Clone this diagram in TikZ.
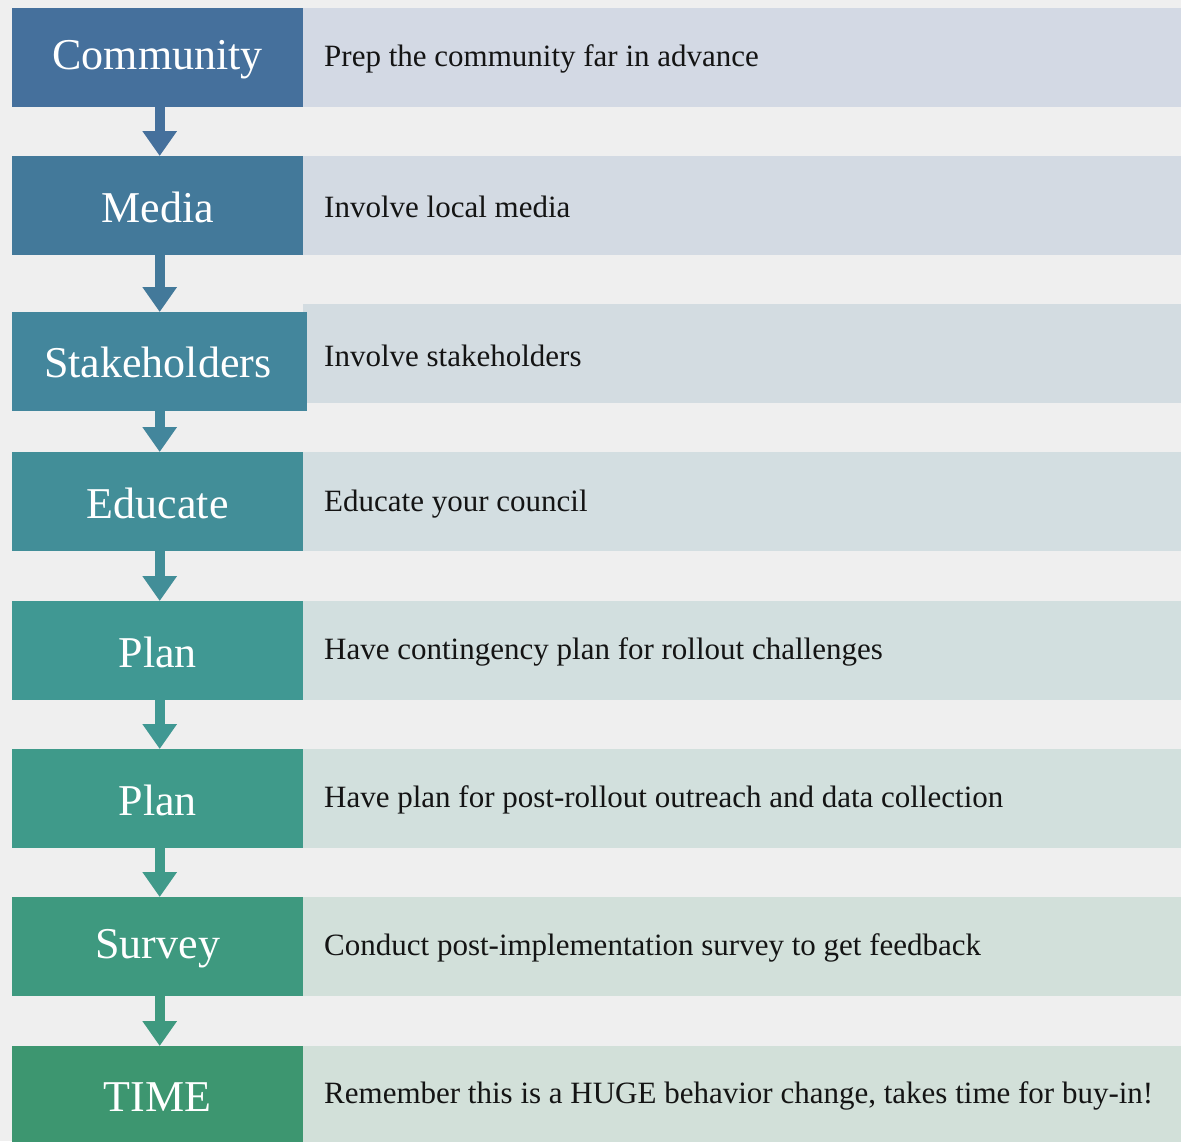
\documentclass[tikz,border=0pt]{standalone}
\usepackage{fontspec}
\setmainfont{Liberation Serif}
\usetikzlibrary{arrows.meta}
\definecolor{bg}{HTML}{EFEFEF}
\definecolor{Lone}{HTML}{45709C}
\definecolor{Ltwo}{HTML}{43799A}
\definecolor{Lthree}{HTML}{43869C}
\definecolor{Lfour}{HTML}{428E98}
\definecolor{Lfive}{HTML}{409893}
\definecolor{Lsix}{HTML}{3F9A8A}
\definecolor{Lseven}{HTML}{3E997F}
\definecolor{Leight}{HTML}{3D9670}
\definecolor{Rone}{HTML}{D3D9E4}
\definecolor{Rtwo}{HTML}{D3DAE3}
\definecolor{Rthree}{HTML}{D3DCE1}
\definecolor{Rfour}{HTML}{D3DEE1}
\definecolor{Rfive}{HTML}{D2DFDF}
\definecolor{Rsix}{HTML}{D2E0DD}
\definecolor{Rseven}{HTML}{D2E0DA}
\definecolor{Reight}{HTML}{D2E0D9}
\tikzset{
  leftbox/.style={rectangle, inner sep=0pt, minimum width=291pt, minimum height=99pt,
    anchor=north west, text=white, font=\fontsize{44}{48}\selectfont},
  leftlabel/.style={inner sep=0pt, text=white, font=\fontsize{44}{48}\selectfont},
  rightbox/.style={rectangle, inner sep=0pt, minimum width=878pt, minimum height=99pt,
    anchor=north west},
  righttext/.style={anchor=west, inner sep=0pt, text=black!92, font=\fontsize{31}{34}\selectfont},
  flowarrow/.style={line width=10pt, -{Triangle[width=33pt,length=25pt]}}
}
\begin{document}
\begin{tikzpicture}[x=1pt,y=-1pt]
\useasboundingbox (0,0) rectangle (1181,1141);
\clip (0,0) rectangle (1181,1141);
\fill[bg] (0,0) rectangle (1181,1141);

% right boxes
\node[rightbox, fill=Rone]   (r1) at (303,8) {};
\node[rightbox, fill=Rtwo]   (r2) at (303,156) {};
\node[rightbox, fill=Rthree] (r3) at (303,304) {};
\node[rightbox, fill=Rfour]  (r4) at (303,452) {};
\node[rightbox, fill=Rfive]  (r5) at (303,601) {};
\node[rightbox, fill=Rsix]   (r6) at (303,749) {};
\node[rightbox, fill=Rseven] (r7) at (303,897) {};
\node[rightbox, fill=Reight] (r8) at (303,1046) {};

% left boxes
\node[leftbox, fill=Lone]   (c1) at (12,8) {};
\node[leftbox, fill=Ltwo]   (c2) at (12,156) {};
\node[leftbox, fill=Lthree, minimum width=295pt] (c3) at (12,312) {};
\node[leftbox, fill=Lfour]  (c4) at (12,452) {};
\node[leftbox, fill=Lfive]  (c5) at (12,601) {};
\node[leftbox, fill=Lsix]   (c6) at (12,749) {};
\node[leftbox, fill=Lseven] (c7) at (12,897) {};
\node[leftbox, fill=Leight] (c8) at (12,1046) {};

% left labels
\node[leftlabel] (l1) at ([yshift=-2pt]c1.center) {Community};
\node[leftlabel] (l2) at ([yshift=-2pt]c2.center) {Media};
\node[leftlabel] (l3) at ([yshift=-1pt,xshift=-2pt]c3.center) {Stakeholders};
\node[leftlabel] (l4) at ([yshift=-2pt]c4.center) {Educate};
\node[leftlabel] (l5) at ([yshift=-2pt]c5.center) {Plan};
\node[leftlabel] (l6) at ([yshift=-2pt]c6.center) {Plan};
\node[leftlabel] (l7) at ([yshift=-2pt]c7.center) {Survey};
\node[leftlabel] (l8) at ([yshift=-1pt]c8.center) {TIME};

% right texts
\node[righttext] (t1) at (324,59) {Prep the community far in advance};
\node[righttext] (t2) at (324,207) {Involve local media};
\node[righttext] (t3) at (324,356) {Involve stakeholders};
\node[righttext] (t4) at (324,504) {Educate your council};
\node[righttext] (t5) at (324,652) {Have contingency plan for rollout challenges};
\node[righttext] (t6) at (324,800) {Have plan for post-rollout outreach and data collection};
\node[righttext] (t7) at (324,948) {Conduct post-implementation survey to get feedback};
\node[righttext] (t8) at (324,1096) {Remember this is a HUGE behavior change, takes time for buy-in!};

% arrows
\draw[flowarrow, Lone]   ([xshift=2pt]c1.south) -- ([xshift=2pt]c1.south |- c2.north);
\draw[flowarrow, Ltwo]   ([xshift=2pt]c2.south) -- ([xshift=2pt]c2.south |- c3.north);
\draw[flowarrow, Lthree] ([xshift=2pt]c1.south |- c3.south) -- ([xshift=2pt]c1.south |- c4.north);
\draw[flowarrow, Lfour]  ([xshift=2pt]c4.south) -- ([xshift=2pt]c4.south |- c5.north);
\draw[flowarrow, Lfive]  ([xshift=2pt]c5.south) -- ([xshift=2pt]c5.south |- c6.north);
\draw[flowarrow, Lsix]   ([xshift=2pt]c6.south) -- ([xshift=2pt]c6.south |- c7.north);
\draw[flowarrow, Lseven] ([xshift=2pt]c7.south) -- ([xshift=2pt]c7.south |- c8.north);
\end{tikzpicture}
\end{document}
